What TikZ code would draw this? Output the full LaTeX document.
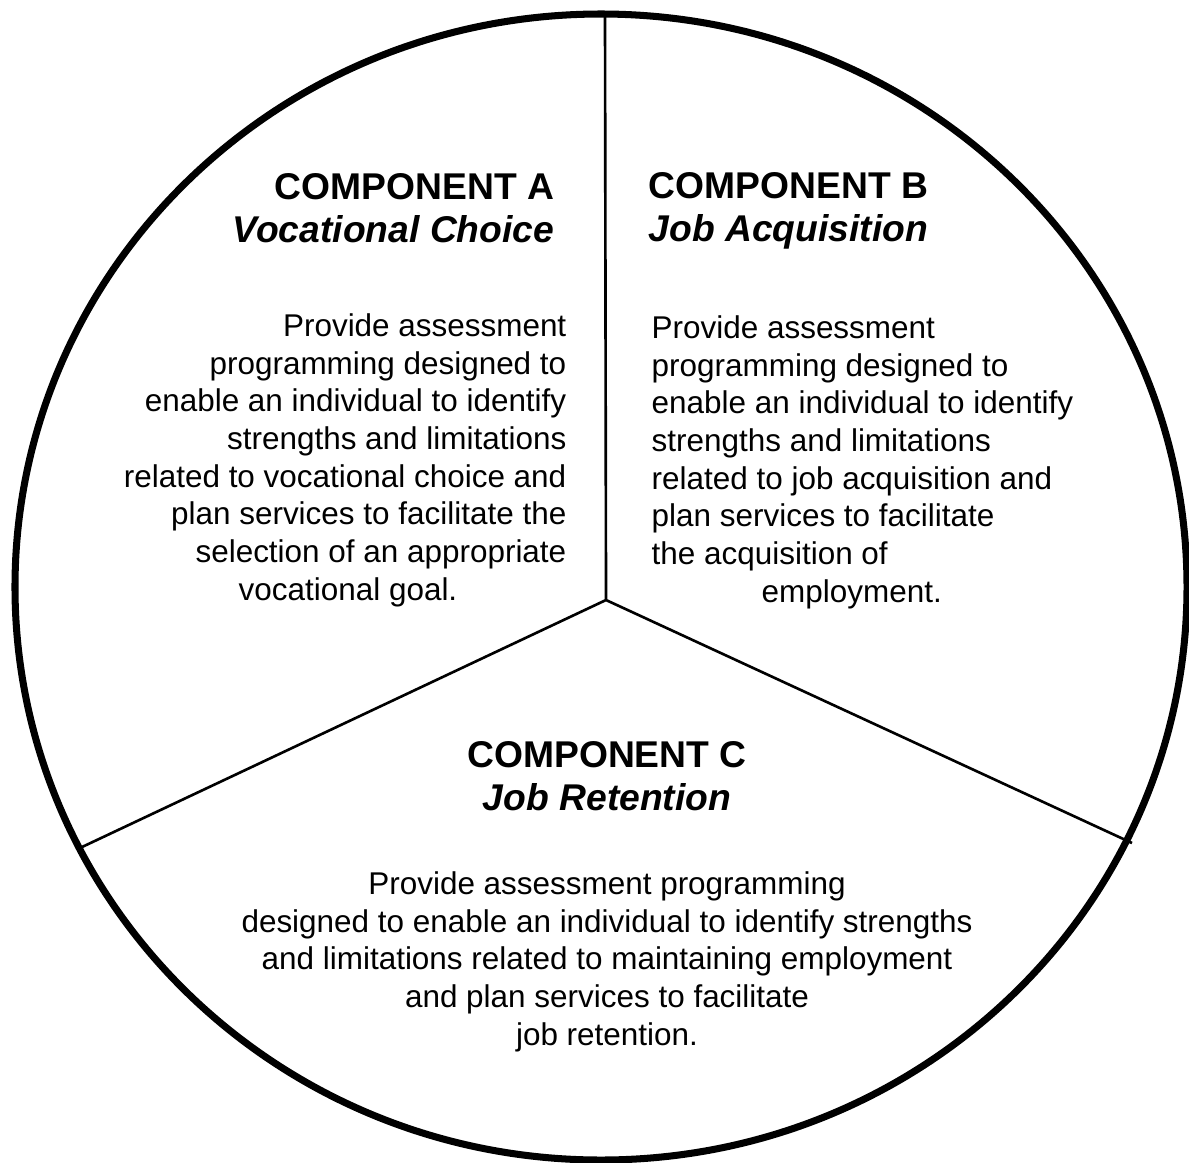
\documentclass[tikz,border=0pt]{standalone}
\usepackage{fontspec}
\setmainfont{Liberation Sans}

\begin{document}
\begin{tikzpicture}[x=0.1mm,y=-0.1mm,
  rim/.style={line width=2pt},
  spoke/.style={line width=0.75pt},
  head/.style={inner sep=0pt,font=\fontsize{10.6}{12.2}\selectfont\bfseries},
  body/.style={inner sep=0pt,font=\fontsize{8.95}{10.7}\selectfont}]
\useasboundingbox (0,0) rectangle (1189,1162);
% the wheel
\draw[rim] (601,587) ellipse [x radius=586, y radius=573];
\coordinate (hub) at (606,600);
\coordinate (topend) at (605,14);
\coordinate (leftend) at (82,847);
\coordinate (rightend) at (1132,843);
\draw[spoke] (hub) -- (topend) (hub) -- (leftend) (hub) -- (rightend);
% component A (base = last line)
\node[head,align=right,anchor=base east] (headA) at (555,242)
  {COMPONENT A\\ \textit{Vocational Choice}};
\node[body,align=right,anchor=base east] (textA) at (567,600)
  {Provide assessment\\ programming designed to\\ enable an individual to identify\\
   strengths and limitations\\ related to vocational choice and\\
   plan services to facilitate the\\ selection of an appropriate\\
   vocational goal.\hspace*{10.9mm}};
% component B
\node[head,align=left,anchor=base west] (headB) at (648,241)
  {COMPONENT B\\ \textit{Job Acquisition}};
\node[body,align=left,anchor=base west] (textB) at (651,602)
  {Provide assessment\\ programming designed to\\ enable an individual to identify\\
   strengths and limitations\\ related to job acquisition and\\
   plan services to facilitate\\ the acquisition of\\
   \hspace*{11mm}employment.};
% component C
\node[head,align=center,anchor=base] (headC) at (607,810)
  {COMPONENT C\\ \textit{Job Retention}};
\node[body,align=center,anchor=base] (textC) at (607,1045)
  {Provide assessment programming\\
   designed to enable an individual to identify strengths\\
   and limitations related to maintaining employment\\
   and plan services to facilitate\\ job retention.};
\end{tikzpicture}
\end{document}
